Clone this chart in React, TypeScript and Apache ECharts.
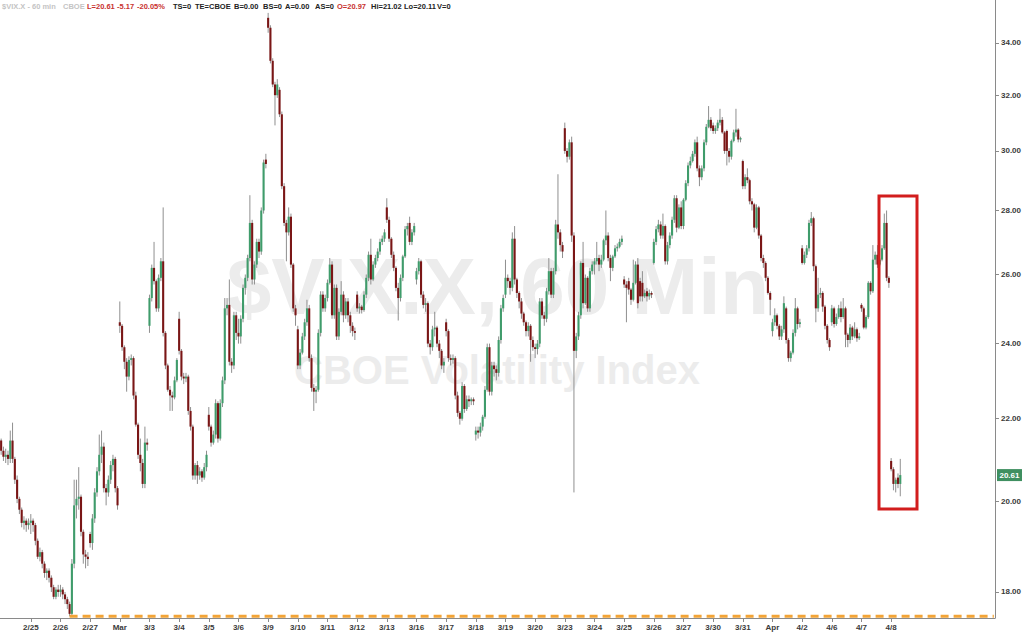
import React, { useEffect, useRef } from 'react';
import * as echarts from 'echarts';

// ---------- DATA ----------
// Day labels (first bar of each trading day). "Mar" = 3/2, "Apr" = 4/1
const dayLabels = ['2/24', '2/25', '2/26', '2/27', 'Mar', '3/3', '3/4', '3/5', '3/6', '3/9', '3/10', '3/11', '3/12', '3/13', '3/16', '3/17', '3/18', '3/19', '3/20', '3/23', '3/24', '3/25', '3/26', '3/27', '3/30', '3/31', 'Apr', '4/2', '4/6', '4/7', '4/8'];

type Bar = [number, number, number, number]; // open, close, low, high

const d0224: Bar[] = [[21.45, 21.2, 21.1, 21.5], [21.2, 21.05, 20.95, 21.3], [21.05, 21.1, 20.9, 21.25], [21.1, 21.0, 20.85, 21.2], [21.0, 21.45, 20.9, 21.7], [21.45, 21.0, 20.9, 21.9], [21.0, 20.5, 20.4, 21.05], [20.5, 20.05, 19.95, 20.6], [20.05, 19.8, 19.7, 20.1], [19.8, 19.5, 19.4, 19.85], [19.5, 19.55, 19.35, 19.65], [19.55, 19.45, 19.3, 19.6], [19.45, 19.5, 19.35, 19.6]];
const d0225: Bar[] = [[19.5, 19.55, 19.25, 19.7], [19.55, 19.45, 19.3, 19.6], [19.45, 19.1, 19.0, 19.5], [19.1, 18.75, 18.7, 19.15], [18.75, 18.85, 18.65, 18.95], [18.85, 18.6, 18.5, 18.9], [18.6, 18.4, 18.3, 18.65], [18.4, 18.45, 18.25, 18.5], [18.45, 18.3, 18.2, 18.5], [18.3, 18.1, 18.0, 18.35], [18.1, 17.9, 17.85, 18.15], [17.9, 18.05, 17.85, 18.1], [18.05, 18.0, 17.9, 18.15]];
const d0226: Bar[] = [[18.0, 18.05, 17.9, 18.15], [18.05, 17.95, 17.85, 18.1], [17.95, 17.85, 17.75, 18.0], [17.85, 17.75, 17.65, 17.9], [17.75, 17.55, 17.5, 17.8], [17.55, 18.6, 17.52, 18.7], [18.6, 19.9, 18.5, 20.5], [19.9, 20.05, 19.6, 20.5], [20.05, 20.1, 19.8, 20.8], [20.1, 19.3, 19.2, 20.15], [19.3, 18.8, 18.6, 19.35], [18.8, 18.75, 18.5, 18.9], [18.75, 18.7, 18.55, 18.85]];
const d0227: Bar[] = [[19.25, 19.05, 18.95, 19.3], [19.05, 19.6, 18.9, 19.7], [19.6, 20.2, 19.5, 20.3], [20.2, 20.7, 20.1, 20.8], [20.7, 21.1, 20.6, 21.6], [21.1, 21.3, 20.9, 21.7], [21.3, 20.3, 20.2, 21.4], [20.3, 20.2, 19.9, 20.4], [20.2, 20.5, 20.1, 20.6], [20.5, 20.85, 20.4, 20.95], [20.85, 21.0, 20.7, 21.1], [21.0, 20.3, 20.2, 21.05], [20.3, 19.9, 19.8, 20.35]];
const d0302: Bar[] = [[24.6, 24.5, 24.3, 25.2], [24.5, 23.9, 23.8, 24.55], [23.9, 23.5, 23.3, 23.95], [23.5, 23.1, 22.7, 23.6], [23.1, 23.55, 23.0, 23.65], [23.55, 23.6, 23.4, 23.7], [23.6, 22.6, 22.5, 23.65], [22.6, 21.85, 21.8, 22.7], [21.85, 21.1, 21.0, 21.9], [21.1, 20.9, 20.7, 21.5], [20.9, 20.4, 20.3, 21.0], [20.4, 21.4, 20.3, 21.8], [21.4, 21.35, 21.2, 21.5]];
const d0303: Bar[] = [[24.5, 25.3, 24.3, 25.4], [25.3, 26.2, 25.2, 26.3], [26.2, 25.8, 25.7, 27.0], [25.8, 25.0, 24.9, 25.85], [25.0, 25.9, 24.9, 26.0], [25.9, 26.4, 25.8, 26.5], [26.4, 24.3, 24.2, 28.1], [24.3, 23.4, 23.3, 24.35], [23.4, 22.75, 22.7, 23.45], [22.75, 22.6, 22.2, 22.85], [22.6, 22.55, 22.2, 22.7], [22.55, 23.0, 22.5, 23.1], [23.0, 23.55, 22.95, 23.6]];
const d0304: Bar[] = [[24.7, 23.8, 23.7, 24.9], [23.8, 23.1, 23.0, 23.85], [23.1, 23.05, 22.9, 23.2], [23.05, 23.1, 22.95, 23.2], [23.1, 22.2, 22.1, 23.15], [22.2, 21.8, 21.7, 22.3], [21.8, 20.6, 20.5, 21.85], [20.6, 20.85, 20.5, 20.9], [20.85, 20.6, 20.4, 20.95], [20.6, 20.7, 20.5, 20.8], [20.7, 20.55, 20.45, 20.75], [20.55, 20.8, 20.5, 20.9], [20.8, 21.1, 20.7, 21.2]];
const d0305: Bar[] = [[22.1, 21.8, 21.7, 22.3], [21.8, 21.4, 21.3, 21.85], [21.4, 21.6, 21.35, 21.7], [21.6, 22.4, 21.5, 22.5], [22.4, 21.5, 21.4, 22.45], [21.5, 22.4, 21.45, 22.5], [22.4, 23.0, 22.3, 23.1], [23.0, 25.0, 22.9, 25.3], [25.0, 25.1, 24.8, 25.3], [25.1, 23.5, 23.4, 25.85], [23.5, 23.4, 23.2, 23.6], [23.4, 24.8, 23.3, 24.9], [24.8, 24.3, 24.1, 24.9]];
const d0306: Bar[] = [[24.3, 24.2, 24.0, 24.7], [24.2, 24.7, 24.0, 24.8], [24.7, 25.6, 24.6, 25.7], [25.6, 25.9, 25.4, 26.0], [25.9, 26.5, 25.8, 26.6], [26.5, 27.6, 26.4, 28.5], [27.6, 25.85, 25.7, 27.7], [25.85, 26.3, 25.7, 26.4], [26.3, 27.0, 26.2, 27.1], [27.0, 26.7, 26.5, 27.1], [26.7, 28.0, 26.6, 28.1], [28.0, 29.6, 27.9, 29.7], [29.7, 29.55, 29.4, 29.9]];
const d0309: Bar[] = [[35.0, 34.6, 34.4, 35.2], [34.6, 33.3, 33.2, 34.7], [33.3, 32.4, 32.3, 33.4], [32.4, 32.0, 30.9, 32.5], [32.0, 32.4, 31.9, 32.6], [32.2, 31.3, 31.2, 32.3], [31.3, 28.8, 28.7, 31.4], [28.8, 27.6, 27.5, 28.9], [27.6, 27.3, 26.4, 27.7], [27.3, 27.8, 27.2, 28.1], [27.8, 26.3, 26.2, 27.9], [26.3, 25.0, 24.9, 26.35], [25.0, 24.8, 24.5, 25.1]];
const d0310: Bar[] = [[24.4, 23.4, 23.3, 24.5], [23.4, 23.75, 23.3, 23.85], [23.75, 24.2, 23.7, 24.3], [24.2, 24.6, 24.1, 24.7], [24.6, 25.0, 24.5, 25.25], [25.0, 23.6, 23.5, 25.1], [23.6, 22.8, 22.7, 23.7], [22.8, 22.7, 22.2, 22.9], [22.7, 22.75, 22.4, 22.85], [22.75, 24.3, 22.7, 24.4], [24.3, 25.4, 24.2, 25.5], [25.4, 25.0, 24.9, 25.5], [25.0, 25.3, 24.9, 25.4]];
const d0311: Bar[] = [[25.3, 25.75, 25.2, 25.85], [25.75, 26.3, 25.7, 26.5], [26.3, 24.8, 24.7, 26.4], [24.8, 25.6, 24.7, 25.7], [25.6, 24.2, 24.1, 25.7], [24.2, 24.9, 24.1, 25.0], [24.9, 25.4, 24.8, 25.8], [25.4, 24.8, 24.6, 25.5], [24.8, 25.2, 24.7, 25.3], [25.2, 24.8, 24.6, 25.3], [24.8, 24.5, 24.3, 24.9], [24.5, 24.35, 24.2, 24.6], [24.35, 24.3, 24.1, 24.45]];
const d0312: Bar[] = [[25.4, 25.0, 24.9, 25.5], [25.0, 25.05, 24.85, 25.15], [25.05, 24.95, 24.85, 25.1], [24.95, 25.4, 24.9, 25.5], [25.4, 25.9, 25.3, 26.0], [25.9, 26.6, 25.8, 26.7], [26.6, 25.85, 25.7, 27.1], [25.85, 26.3, 25.8, 26.4], [26.3, 26.5, 26.2, 26.6], [26.5, 26.7, 26.4, 26.8], [26.7, 27.0, 26.6, 27.1], [27.0, 27.1, 26.9, 27.2], [27.1, 27.3, 27.0, 27.4]];
const d0313: Bar[] = [[28.1, 27.7, 27.6, 28.4], [27.7, 27.1, 27.0, 27.8], [27.1, 26.6, 26.5, 27.15], [26.6, 26.2, 26.1, 26.7], [26.2, 25.6, 25.5, 26.25], [25.6, 25.3, 24.65, 25.75], [25.3, 25.9, 25.2, 26.0], [25.9, 26.55, 25.8, 26.6], [26.55, 27.4, 26.5, 27.5], [27.4, 27.5, 27.2, 27.6], [27.6, 27.0, 26.9, 27.8], [27.0, 27.3, 26.9, 27.4], [27.3, 27.5, 27.2, 27.6]];
const d0316: Bar[] = [[25.85, 26.1, 25.7, 26.2], [26.1, 26.4, 26.0, 26.5], [26.4, 25.4, 25.3, 26.45], [25.4, 25.1, 25.0, 25.5], [25.1, 25.15, 24.9, 25.3], [25.15, 24.0, 23.9, 25.2], [24.0, 23.9, 23.7, 24.1], [23.9, 24.4, 23.8, 24.5], [24.4, 24.45, 24.2, 24.9], [24.45, 24.0, 23.9, 24.5], [24.0, 23.8, 23.6, 24.1], [23.8, 23.4, 23.3, 23.85], [23.4, 23.5, 23.2, 23.6]];
const d0317: Bar[] = [[24.6, 24.35, 24.2, 24.7], [24.35, 23.6, 23.5, 24.4], [23.6, 23.55, 23.4, 23.7], [23.55, 23.6, 23.45, 23.7], [23.6, 22.6, 22.5, 23.65], [22.6, 22.15, 22.05, 22.7], [22.15, 22.0, 21.85, 22.2], [22.0, 22.85, 21.95, 22.95], [22.85, 22.25, 22.15, 22.9], [22.25, 22.5, 22.2, 22.6], [22.5, 22.45, 22.3, 22.6], [22.45, 22.5, 22.35, 22.55], [22.5, 22.45, 22.35, 22.55]];
const d0318: Bar[] = [[21.6, 21.7, 21.45, 21.8], [21.7, 21.65, 21.5, 21.8], [21.65, 21.8, 21.55, 21.9], [21.8, 22.05, 21.7, 22.1], [22.05, 22.75, 22.0, 22.85], [22.75, 23.9, 22.7, 24.0], [23.9, 22.7, 22.6, 24.0], [22.7, 23.4, 22.6, 23.5], [23.4, 23.3, 23.1, 23.5], [23.3, 23.2, 23.0, 23.4], [23.2, 24.1, 23.1, 24.2], [24.1, 25.0, 24.0, 25.1], [25.0, 25.3, 24.9, 25.4]];
const d0319: Bar[] = [[25.4, 25.9, 25.3, 26.45], [25.9, 25.8, 25.6, 26.0], [25.8, 25.6, 25.4, 25.9], [25.6, 27.1, 25.5, 27.3], [27.1, 25.85, 25.7, 27.5], [25.85, 25.45, 25.3, 25.9], [25.45, 25.2, 25.0, 25.5], [25.2, 24.85, 24.7, 25.3], [24.85, 24.6, 24.5, 24.9], [24.6, 24.35, 24.2, 24.65], [24.35, 24.5, 24.2, 24.6], [24.5, 24.1, 23.5, 24.55], [24.1, 23.9, 23.8, 24.2]];
const d0320: Bar[] = [[23.9, 23.85, 23.6, 24.0], [23.85, 24.0, 23.7, 24.1], [24.0, 25.2, 23.9, 25.3], [25.2, 24.8, 24.7, 25.3], [24.8, 24.7, 24.5, 24.9], [24.7, 25.5, 24.6, 25.6], [25.5, 26.1, 25.4, 26.5], [26.1, 25.4, 25.3, 26.2], [25.4, 26.1, 25.3, 26.2], [26.1, 27.55, 26.0, 27.7], [27.55, 27.3, 27.1, 29.2], [27.3, 26.9, 26.7, 27.4], [26.9, 26.7, 26.5, 27.0]];
const d0323: Bar[] = [[30.8, 30.0, 29.9, 31.0], [30.0, 29.8, 29.6, 30.1], [29.8, 30.3, 29.7, 30.4], [30.3, 27.2, 27.0, 30.5], [27.2, 23.8, 20.2, 27.3], [23.8, 24.2, 23.6, 24.3], [24.2, 24.8, 24.1, 24.9], [24.8, 26.35, 24.7, 26.4], [26.35, 25.15, 25.0, 27.0], [25.15, 25.9, 25.1, 26.0], [25.9, 25.0, 24.9, 25.95], [25.0, 26.1, 24.9, 26.2], [26.1, 26.3, 26.0, 26.4]];
const d0324: Bar[] = [[26.3, 26.4, 26.0, 26.5], [26.4, 26.5, 26.3, 27.0], [26.5, 26.3, 26.1, 26.6], [26.3, 26.45, 26.2, 26.6], [26.45, 27.05, 26.4, 27.1], [27.05, 27.2, 26.9, 28.0], [27.2, 26.5, 26.4, 27.3], [26.5, 26.2, 25.8, 26.6], [26.2, 26.55, 26.1, 26.6], [26.55, 26.8, 26.5, 26.9], [26.8, 26.85, 26.7, 26.95], [26.85, 27.0, 26.8, 27.1], [27.0, 27.1, 26.9, 27.2]];
const d0325: Bar[] = [[25.85, 25.7, 25.6, 25.95], [25.7, 25.6, 24.6, 25.8], [25.8, 25.55, 25.4, 25.9], [25.55, 25.25, 25.1, 25.6], [25.25, 25.75, 25.2, 26.45], [25.75, 26.3, 25.7, 26.4], [26.3, 25.15, 25.0, 26.5], [25.8, 25.35, 25.2, 25.9], [25.75, 25.35, 25.2, 26.1], [25.35, 25.45, 25.3, 25.55], [25.5, 25.35, 25.2, 25.6], [25.35, 25.45, 25.25, 25.55], [25.45, 25.4, 25.3, 25.5]];
const d0326: Bar[] = [[26.35, 27.0, 26.3, 27.1], [27.0, 27.4, 26.9, 27.5], [27.4, 27.55, 27.3, 27.7], [27.55, 27.2, 27.1, 27.65], [27.2, 27.5, 27.1, 27.9], [27.5, 26.4, 26.3, 27.55], [26.4, 26.9, 26.3, 27.0], [26.9, 27.2, 26.8, 27.3], [27.2, 27.7, 27.1, 27.8], [27.7, 28.4, 27.6, 28.5], [28.4, 27.45, 27.3, 28.5], [27.45, 28.1, 27.4, 28.2], [28.1, 27.5, 27.4, 28.3]];
const d0327: Bar[] = [[27.5, 28.35, 27.4, 28.4], [28.35, 28.9, 28.3, 29.0], [28.9, 29.5, 28.8, 29.6], [29.5, 29.65, 29.4, 29.8], [29.65, 29.9, 29.6, 30.0], [29.9, 30.3, 29.8, 30.4], [30.3, 29.4, 29.3, 30.5], [29.4, 29.1, 28.8, 29.5], [29.1, 29.4, 29.0, 29.5], [29.4, 30.3, 29.3, 30.4], [30.3, 30.85, 30.2, 30.95], [30.85, 31.1, 30.8, 31.6], [31.1, 30.8, 30.7, 31.2]];
const d0330: Bar[] = [[30.9, 30.7, 30.6, 31.0], [30.7, 30.8, 30.6, 30.9], [30.8, 31.0, 30.7, 31.1], [31.0, 31.1, 30.9, 31.5], [31.1, 30.65, 30.6, 31.2], [30.65, 30.0, 29.9, 30.7], [30.7, 30.0, 29.5, 30.75], [30.0, 29.8, 29.6, 30.1], [29.8, 30.35, 29.7, 30.4], [30.35, 30.65, 30.3, 30.75], [30.65, 30.75, 30.5, 31.5], [30.75, 30.4, 30.3, 30.8], [30.4, 30.45, 30.3, 30.5]];
const d0331: Bar[] = [[29.65, 28.8, 28.7, 29.7], [28.8, 29.1, 28.7, 29.2], [29.1, 29.0, 28.9, 29.4], [29.0, 28.3, 28.2, 29.05], [28.3, 28.2, 28.0, 28.4], [28.2, 27.45, 27.3, 28.25], [27.45, 28.1, 27.4, 28.2], [28.1, 27.2, 27.1, 28.15], [27.2, 26.5, 26.4, 27.25], [26.5, 26.35, 26.2, 26.6], [26.35, 25.9, 25.8, 26.4], [25.9, 25.45, 25.4, 25.95], [25.45, 25.25, 24.8, 25.5]];
const d0401: Bar[] = [[24.35, 24.6, 24.2, 24.7], [24.6, 24.8, 24.5, 25.0], [24.8, 24.5, 24.4, 24.85], [24.5, 24.2, 24.1, 24.55], [24.2, 24.4, 24.1, 24.5], [24.4, 25.15, 24.3, 25.35], [25.0, 24.1, 24.0, 25.05], [24.1, 23.6, 23.5, 24.15], [23.6, 23.75, 23.5, 23.8], [23.75, 24.3, 23.7, 24.4], [24.3, 25.0, 24.2, 25.3], [25.0, 24.55, 24.4, 25.05], [24.55, 24.6, 24.45, 24.7]];
const d0402: Bar[] = [[26.8, 26.35, 26.3, 26.9], [26.35, 26.6, 26.3, 26.7], [26.6, 26.8, 26.5, 26.9], [26.8, 27.6, 26.7, 27.7], [27.6, 27.75, 27.5, 27.95], [27.75, 26.25, 26.1, 27.8], [26.25, 25.0, 24.6, 26.3], [25.0, 25.4, 24.9, 25.9], [25.4, 25.45, 25.3, 25.6], [25.45, 25.05, 24.9, 25.5], [25.05, 24.5, 24.4, 25.1], [24.5, 24.1, 24.0, 24.55], [24.1, 23.9, 23.8, 24.15]];
const d0406: Bar[] = [[24.6, 25.0, 24.5, 25.1], [25.0, 24.55, 24.45, 25.05], [24.55, 24.75, 24.5, 24.85], [24.75, 25.0, 24.7, 25.1], [25.0, 24.75, 24.6, 25.2], [24.75, 25.0, 24.7, 25.3], [25.0, 24.25, 23.9, 25.05], [24.25, 24.1, 23.9, 24.3], [24.1, 24.45, 24.0, 24.55], [24.45, 24.2, 24.1, 24.5], [24.2, 24.4, 24.15, 24.6], [24.4, 24.15, 24.05, 24.45], [24.15, 24.2, 24.1, 24.3]];
const d0407: Bar[] = [[25.1, 25.0, 24.9, 25.15], [25.0, 24.45, 24.4, 25.05], [24.45, 24.75, 24.4, 24.8], [24.75, 25.75, 24.7, 25.8], [25.75, 25.5, 25.4, 25.8], [25.5, 26.45, 25.45, 26.9], [26.45, 26.6, 26.3, 26.7], [26.6, 26.3, 26.2, 26.9], [26.3, 26.45, 26.25, 26.5], [26.45, 26.8, 26.4, 26.9], [26.8, 27.6, 26.75, 27.9], [27.6, 25.9, 25.8, 28.0], [25.9, 25.75, 25.6, 25.95]];
const d0408: Bar[] = [[20.95, 20.75, 20.7, 21.02], [20.75, 20.4, 20.25, 20.8], [20.4, 20.5, 20.2, 20.55], [20.55, 20.4, 20.3, 20.65], [20.4, 20.61, 20.11, 21.0]];

const days: Bar[][] = [d0224, d0225, d0226, d0227, d0302, d0303, d0304, d0305, d0306, d0309, d0310, d0311, d0312, d0313, d0316, d0317, d0318, d0319, d0320, d0323, d0324, d0325, d0326, d0327, d0330, d0331, d0401, d0402, d0406, d0407, d0408];

const yTickValues = [18, 20, 22, 24, 26, 28, 30, 32, 34];
const yRange = [17.466, 35.73];
const emptySlots = 41; // blank hourly slots to the right of the last bar

const headerTexts = ['$VIX.X - 60 min', 'CBOE', 'L=20.61', '-5.17', '-20.05%', 'TS=0', 'TE=CBOE', 'B=0.00', 'BS=0', 'A=0.00', 'AS=0', 'O=20.97', 'Hi=21.02', 'Lo=20.11', 'V=0'];
const watermarkTitle = '$VIX.X, 60 Min';
const watermarkSub = 'CBOE Volatility Index';

// ---------- STYLE ----------
const FONT = '"Liberation Sans", Arial, Helvetica, sans-serif';
const UP = '#3f9c6b';
const DOWN = '#7a1616';
const WICK = '#8f8f8f';
const headerX = [2, 63, 87, 117, 137, 173, 195, 234, 263, 285, 315, 337, 371, 404, 437];
const headerColors = ['#c4c4c4', '#c4c4c4', '#c8322f', '#c8322f', '#c8322f', '#222', '#222', '#222', '#222', '#222', '#222', '#c8322f', '#222', '#222', '#222'];

function buildOption() {
  const bars: Bar[] = days.flat();
  const categories: string[] = [];
  const dayStart = new Set<number>();
  days.forEach((d, di) => {
    d.forEach((_, j) => {
      if (j === 0 && di > 0) dayStart.add(categories.length);
      categories.push(dayLabels[di] + '|' + j);
    });
  });
  for (let k = 0; k < emptySlots; k++) categories.push('|pad' + k);

  const candleData = bars.map((b, i) => [i, Math.log(b[0]), Math.log(b[1]), Math.log(b[2]), Math.log(b[3])]);

  // lowest low -> dashed support line
  let minIdx = 0;
  bars.forEach((b, i) => { if (b[2] < bars[minIdx][2]) minIdx = i; });
  const minLog = Math.log(bars[minIdx][2]);
  const lastIdx = bars.length - 1;
  const lastClose = bars[lastIdx][1];

  const labelInterval = (index: number) => dayStart.has(index);

  const renderItem = (params: any, api: any) => {
    const i = api.value(0);
    const o = api.value(1), c = api.value(2), l = api.value(3), h = api.value(4);
    const pO = api.coord([i, o]);
    const pC = api.coord([i, c]);
    const pL = api.coord([i, l]);
    const pH = api.coord([i, h]);
    const x = pO[0];
    const w = api.size([1, 0])[0] * 0.92;
    const up = c >= o;
    const top = Math.min(pO[1], pC[1]);
    const hgt = Math.max(Math.abs(pO[1] - pC[1]), 1.2);
    const children: any[] = [
      { type: 'line', shape: { x1: x, y1: pH[1], x2: x, y2: pL[1] }, style: { stroke: WICK, lineWidth: 1 } },
      { type: 'rect', shape: { x: x - w / 2, y: top, width: w, height: hgt }, style: { fill: up ? UP : DOWN } },
    ];
    if (params.dataIndex === lastIdx) {
      const cs = params.coordSys;
      const gx = cs.x + cs.width;
      children.push(
        { type: 'rect', shape: { x: gx + 2, y: pC[1] - 6, width: 25, height: 12 }, style: { fill: '#3f8f60' } },
        { type: 'text', x: gx + 14.5, y: pC[1], style: { text: lastClose.toFixed(2), fill: '#fff', font: 'bold 8px ' + FONT, align: 'center', verticalAlign: 'middle', textAlign: 'center', textVerticalAlign: 'middle' } },
      );
    }
    return { type: 'group', children };
  };

  const graphic: any[] = [
    { type: 'text', x: 498, y: 286, z: 0, silent: true, style: { text: watermarkTitle, font: 'bold 80px ' + FONT, fill: '#ececec', align: 'center', verticalAlign: 'middle', textAlign: 'center', textVerticalAlign: 'middle' } },
    { type: 'text', x: 497, y: 370, z: 0, silent: true, style: { text: watermarkSub, font: 'bold 40px ' + FONT, fill: '#ececec', align: 'center', verticalAlign: 'middle', textAlign: 'center', textVerticalAlign: 'middle' } },
    ...headerTexts.map((t, k) => ({ type: 'text', x: headerX[k], y: 6, z: 100, silent: true, style: { text: t, font: 'bold 7.5px ' + FONT, fill: headerColors[k], align: 'left', verticalAlign: 'middle', textAlign: 'left', textVerticalAlign: 'middle' } })),
    { type: 'rect', z: 100, silent: true, shape: { x: 879, y: 196, width: 38, height: 313 }, style: { fill: 'none', stroke: '#d21d1d', lineWidth: 3 } },
  ];

  const logTicks = yTickValues.map((v) => Math.log(v));

  return {
    animation: false,
    backgroundColor: '#ffffff',
    grid: { left: 0, right: 28, top: 0, bottom: 14, containLabel: false },
    xAxis: {
      type: 'category',
      data: categories,
      boundaryGap: true,
      axisLine: { show: true, lineStyle: { color: '#8a8a8a', width: 1 } },
      axisTick: { show: true, interval: labelInterval, alignWithLabel: true, length: 4, lineStyle: { color: '#8a8a8a' } },
      axisLabel: { interval: labelInterval, formatter: (v: string) => v.split('|')[0], fontSize: 8, fontWeight: 'bold', color: '#3a3a3a', margin: 5, fontFamily: FONT },
      splitLine: { show: false },
    },
    yAxis: {
      type: 'value',
      position: 'right',
      min: Math.log(yRange[0]),
      max: Math.log(yRange[1]),
      scale: true,
      axisLine: { show: true, lineStyle: { color: '#8a8a8a', width: 1 } },
      axisTick: { show: true, customValues: logTicks, length: 4, inside: false, lineStyle: { color: '#8a8a8a' } },
      axisLabel: { customValues: logTicks, formatter: (v: number) => Math.exp(v).toFixed(2), fontSize: 8, fontWeight: 'bold', color: '#3a3a3a', margin: 6, fontFamily: FONT },
      splitLine: { show: false },
    },
    graphic,
    series: [
      {
        type: 'custom',
        name: 'VIX',
        renderItem,
        data: candleData,
        encode: { x: 0, y: [1, 2, 3, 4] },
        clip: false,
        z: 2,
      },
      {
        type: 'line',
        name: 'low',
        data: [[minIdx, minLog], [categories.length - 1, minLog]],
        symbol: 'none',
        silent: true,
        lineStyle: { color: '#f2a437', width: 3, type: [8, 5] },
        z: 3,
      },
    ],
  };
}

export default function App() {
  const ref = useRef<HTMLDivElement>(null);
  useEffect(() => {
    if (!ref.current) return;
    const chart = echarts.init(ref.current, undefined, { renderer: 'svg' });
    chart.setOption(buildOption() as any);
    return () => chart.dispose();
  }, []);
  return (
    <div
      ref={ref}
      style={{ position: 'fixed', left: 0, top: 0, width: 1024, height: 632, background: '#fff' }}
    />
  );
}
